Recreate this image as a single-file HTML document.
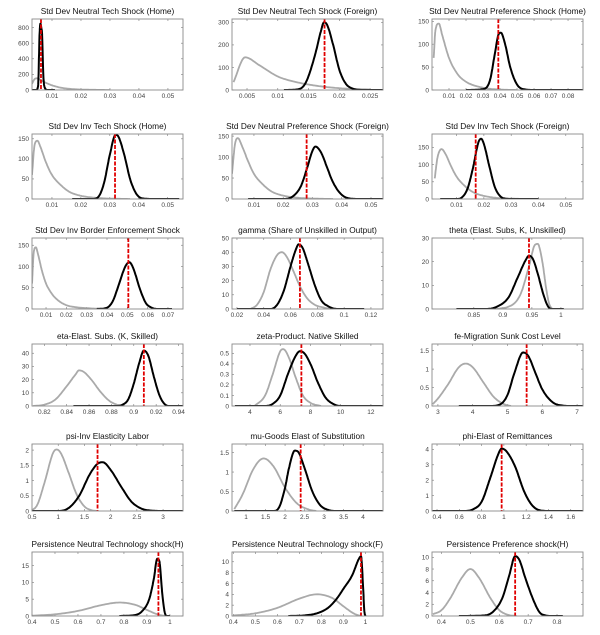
<!DOCTYPE html>
<html><head><meta charset="utf-8">
<style>
html,body{margin:0;padding:0;background:#fff;}
svg{display:block;font-family:"Liberation Sans",sans-serif;}
</style></head>
<body>
<svg id="fig" width="600" height="635" viewBox="0 0 600 635" xmlns="http://www.w3.org/2000/svg"></svg>
<script>
const titles = ["Std Dev Neutral Tech Shock (Home)","Std Dev Neutral Tech Shock (Foreign)","Std Dev Neutral Preference Shock (Home)",
"Std Dev Inv Tech Shock (Home)","Std Dev Neutral Preference Shock (Foreign)","Std Dev Inv Tech Shock (Foreign)",
"Std Dev Inv Border Enforcement Shock","gamma (Share of Unskilled in Output)","theta (Elast. Subs, K, Unskilled)",
"eta-Elast. Subs. (K, Skilled)","zeta-Product. Native Skilled","fe-Migration Sunk Cost Level",
"psi-Inv Elasticity Labor","mu-Goods Elast of Substitution","phi-Elast of Remittances",
"Persistence Neutral Technology shock(H)","Persistence Neutral Technology shock(F)","Persistence  Preference shock(H)"];
const xMins = [0.0031,0.00256,0.0,0.0031,0.0025,0.001,0.0031,0.0163,0.778,0.809,2.81,2.83,0.5,0.64,0.355,0.4,0.394,0.367];
const xMaxs = [0.0552,0.0271,0.0888,0.0553,0.0541,0.0563,0.0774,0.129,1.038,0.944,12.8,7.17,3.38,4.51,1.71,1.057,1.08,0.89];
const yMaxs = [910,315,155,162,155,189,167,50,30,47,0.589,1.68,2.2,1.72,4.35,19,11.8,10.9];
const xTicks = [[0.01,0.02,0.03,0.04,0.05],[0.005,0.01,0.015,0.02,0.025],[0.01,0.02,0.03,0.04,0.05,0.06,0.07,0.08],
[0.01,0.02,0.03,0.04,0.05],[0.01,0.02,0.03,0.04,0.05],[0.01,0.02,0.03,0.04,0.05],
[0.01,0.02,0.03,0.04,0.05,0.06,0.07],[0.02,0.04,0.06,0.08,0.1,0.12],[0.85,0.9,0.95,1],
[0.82,0.84,0.86,0.88,0.9,0.92,0.94],[4,6,8,10,12],[3,4,5,6,7],
[0.5,1,1.5,2,2.5,3],[1,1.5,2,2.5,3,3.5,4],[0.4,0.6,0.8,1,1.2,1.4,1.6],
[0.4,0.5,0.6,0.7,0.8,0.9,1],[0.4,0.5,0.6,0.7,0.8,0.9,1],[0.4,0.5,0.6,0.7,0.8]];
const yTicks = [[0,200,400,600,800],[0,100,200,300],[0,50,100,150],
[0,50,100,150],[0,50,100,150],[0,50,100,150],
[0,50,100,150],[0,10,20,30,40,50],[0,10,20,30],
[0,10,20,30,40],[0,0.1,0.2,0.3,0.4,0.5],[0,0.5,1,1.5],
[0,0.5,1,1.5,2],[0,0.5,1,1.5],[0,1,2,3,4],
[0,5,10,15],[0,2,4,6,8,10],[0,2,4,6,8,10]];
const redLines = [0.0062,0.0176,0.039,0.0318,0.028,0.017,0.0505,0.067,0.945,0.909,7.4,5.55,1.75,2.4,0.98,0.95,0.98,0.655];
const priorX = [
[0.0031,0.004,0.005,0.006,0.008,0.010,0.013,0.016,0.02,0.025,0.03],
[0.0028,0.0047,0.007,0.01,0.013,0.016,0.02,0.025],
[0.001,0.002,0.004,0.006,0.01,0.015,0.02,0.03,0.04,0.05],
[0.0031,0.004,0.005,0.006,0.008,0.01,0.013,0.016,0.02,0.025,0.03,0.037],
[0.0025,0.0035,0.0045,0.006,0.008,0.01,0.013,0.016,0.02,0.025,0.03,0.037],
[0.002,0.003,0.0045,0.006,0.008,0.01,0.013,0.016,0.02,0.025,0.03,0.036],
[0.0031,0.004,0.005,0.006,0.008,0.01,0.013,0.016,0.02,0.025,0.03,0.038],
[0.03,0.035,0.04,0.045,0.05,0.0535,0.057,0.062,0.067,0.072,0.078,0.085,0.09],
[0.88,0.91,0.93,0.945,0.955,0.96,0.968,0.975,0.98,0.985],
[0.81,0.82,0.83,0.84,0.848,0.851,0.855,0.862,0.87,0.878,0.885,0.892],
[4.3,5,5.5,6,6.2,6.6,7,7.5,8,8.7],
[2.85,3,3.3,3.6,3.8,4,4.3,4.6,4.9,5.1],
[0.5,0.6,0.75,0.9,0.97,1.05,1.2,1.35,1.5,1.65,1.75],
[0.7,0.9,1.2,1.45,1.7,2,2.3,2.6,2.8],
[0.65,0.72,0.8,0.88,0.95,0.98,1.02,1.1,1.18,1.25,1.32,1.4],
[0.4,0.5,0.6,0.7,0.78,0.85,0.9,0.95,0.98],
[0.4,0.5,0.6,0.7,0.78,0.85,0.9,0.95,0.98],
[0.37,0.4,0.43,0.47,0.5,0.53,0.57,0.6,0.63,0.66]];
const priorY = [
[80,140,150,130,90,60,30,15,6,2,0],
[35,145,110,60,35,20,8,2],
[70,130,145,120,70,35,18,5,1,0],
[60,135,145,130,90,60,35,18,8,3,1,0],
[60,130,145,125,90,60,35,18,8,3,1,0],
[60,120,145,130,95,65,38,20,9,3,1,0],
[60,135,145,130,90,60,35,20,9,4,2,0],
[0,3,12,28,38,40,37,27,16,8,3,1,0],
[0,1,6,18,27,27.5,20,8,2,0],
[0,1,5,15,24,27,26,20,11,4,1,0],
[0,0.1,0.3,0.52,0.54,0.45,0.28,0.1,0.03,0],
[0.05,0.2,0.6,1.05,1.15,1.05,0.65,0.25,0.05,0],
[0.02,0.2,1.0,1.9,2.02,1.9,1.25,0.55,0.15,0.02,0],
[0.05,0.4,1.1,1.35,1.15,0.6,0.2,0.04,0],
[0,0.1,0.6,2.2,3.7,4.05,3.9,2.9,1.3,0.4,0.05,0],
[0.1,0.5,1.5,3.2,4,3.3,1.8,0.4,0],
[0.1,0.5,1.5,3.2,4,3.3,1.8,0.4,0],
[0.3,1,3,6.5,8,6.5,3,1,0.2,0]];
const postX = [
[0.003,0.0045,0.0052,0.0057,0.006,0.0063,0.0066,0.007,0.0075,0.0085,0.011],
[0.011,0.013,0.0145,0.016,0.017,0.0175,0.018,0.019,0.02,0.021,0.022,0.024,0.0271],
[0.02,0.03,0.034,0.037,0.039,0.0405,0.043,0.046,0.05,0.055,0.06,0.0888],
[0.017,0.024,0.026,0.028,0.03,0.032,0.033,0.035,0.037,0.039,0.041,0.045,0.054],
[0.008,0.02,0.023,0.026,0.028,0.03,0.031,0.033,0.035,0.037,0.04,0.043,0.046,0.054],
[0.004,0.01,0.012,0.014,0.016,0.018,0.019,0.02,0.022,0.024,0.026,0.028,0.03,0.04],
[0.035,0.04,0.043,0.046,0.049,0.051,0.053,0.056,0.059,0.062,0.065,0.072],
[0.02,0.045,0.05,0.055,0.06,0.064,0.066,0.069,0.073,0.078,0.083,0.088,0.095,0.115],
[0.82,0.87,0.89,0.91,0.925,0.94,0.945,0.952,0.96,0.97,0.978,0.985,1.005],
[0.846,0.885,0.89,0.895,0.9,0.905,0.909,0.913,0.918,0.923,0.927,0.931,0.944],
[3,5,5.5,6,6.5,7,7.3,7.6,8,8.5,9,9.5,10,12.8],
[3.6,4.5,4.8,5.0,5.2,5.45,5.6,5.8,6.0,6.3,6.6,6.8,7.17],
[0.5,1.0,1.2,1.4,1.6,1.75,1.85,2.0,2.2,2.4,2.6,2.8,3,3.38],
[0.7,1.7,1.85,2,2.1,2.25,2.35,2.5,2.7,2.9,3.1,3.3,4.5],
[0.36,0.65,0.72,0.8,0.88,0.95,0.98,1.02,1.1,1.18,1.25,1.32,1.4,1.71],
[0.78,0.85,0.88,0.91,0.93,0.945,0.955,0.965,0.975,0.985,1.0],
[0.65,0.72,0.78,0.83,0.87,0.9,0.94,0.97,0.98,0.99,0.995,1.0],
[0.46,0.55,0.58,0.61,0.635,0.655,0.67,0.69,0.72,0.74,0.76,0.78,0.82]];
const postY = [
[0,0,50,700,850,800,700,200,30,0,0],
[0,2,30,150,260,300,290,200,90,30,8,0,0],
[0,2,20,80,120,125,100,50,12,1,0,0],
[0,0,5,40,110,160,155,110,50,15,2,0,0],
[0,0,5,30,70,115,125,110,75,40,10,1,0,0],
[0,0,5,30,90,165,175,160,95,35,8,1,0,0],
[0,3,20,60,100,110,95,50,15,3,0,0],
[0,0,3,13,30,42,45.5,43,32,17,6,2,0,0],
[0,0,1,5,13,21,22.5,21,15,6,1,0,0],
[0,0,1,5,17,33,42,38,22,8,2,0,0],
[0,0,0.02,0.1,0.3,0.47,0.52,0.5,0.4,0.22,0.08,0.02,0,0],
[0,0,0.05,0.3,0.9,1.45,1.35,0.9,0.45,0.1,0.01,0,0],
[0,0,0.1,0.5,1.2,1.55,1.6,1.35,0.8,0.3,0.07,0.01,0,0],
[0,0,0.1,0.6,1.1,1.55,1.5,1.1,0.5,0.15,0.03,0,0],
[0,0,0.1,0.6,2.2,3.7,4.05,3.9,2.9,1.3,0.4,0.05,0,0],
[0,0.3,1.5,5,11,17,16,8,2,0,0],
[0,0.1,0.5,1.5,3.2,5,7.5,10.5,11,5,1,0],
[0,0.1,0.8,3,7,10.2,9.5,6.5,2.5,0.6,0.1,0,0]];

// layout (pixels)
const colLeft = [32,232,432], boxW = 151;
const rowTop = [19,134,238,344,444,552], rowH = [71,65,71,62,67,64];
const NS = "http://www.w3.org/2000/svg";
const svg = document.getElementById("fig");
function mk(tag, attrs, parent){ const e=document.createElementNS(NS,tag); for(const k in attrs) e.setAttribute(k,attrs[k]); (parent||svg).appendChild(e); return e; }
function fmt(v){ return String(+v.toFixed(4)); }
function monotone(xs, ys){
  const n=xs.length, d=[], m=new Array(n);
  for(let i=0;i<n-1;i++) d.push((ys[i+1]-ys[i])/(xs[i+1]-xs[i]));
  m[0]=d[0]; m[n-1]=d[n-2];
  for(let i=1;i<n-1;i++) m[i]=(d[i-1]*d[i]<=0)?0:(d[i-1]+d[i])/2;
  for(let i=0;i<n-1;i++){ if(d[i]===0){m[i]=0;m[i+1]=0;continue;} const a=m[i]/d[i], b=m[i+1]/d[i], s=a*a+b*b; if(s>9){const t=3/Math.sqrt(s); m[i]=t*a*d[i]; m[i+1]=t*b*d[i];} }
  const pts=[];
  for(let i=0;i<n-1;i++){ const h=xs[i+1]-xs[i]; for(let k=0;k<12;k++){ const t=k/12, t2=t*t, t3=t2*t;
    const y=(2*t3-3*t2+1)*ys[i]+(t3-2*t2+t)*h*m[i]+(-2*t3+3*t2)*ys[i+1]+(t3-t2)*h*m[i+1];
    pts.push([xs[i]+t*h, Math.max(0,y)]); } }
  pts.push([xs[n-1], ys[n-1]]);
  return pts;
}
for(let p=0;p<18;p++){
  const L=colLeft[p%3], T=rowTop[Math.floor(p/3)], H=rowH[Math.floor(p/3)], W=boxW;
  const sx=v=>L+(v-xMins[p])/(xMaxs[p]-xMins[p])*W;
  const sy=v=>T+H-v/yMaxs[p]*H;
  const g=mk("g",{});
  
  
  const cid="clip"+p;
  const cp=mk("clipPath",{id:cid},g); mk("rect",{x:L,y:T,width:W,height:H},cp);
  const t=mk("text",{x:L+W/2,y:T-5,"text-anchor":"middle","font-size":"8.3",fill:"#111"},g);
  t.textContent=titles[p];
  
  
  xTicks[p].forEach(v=>{ const x=sx(v);
    mk("line",{x1:x,x2:x,y1:T+H,y2:T+H-2,stroke:"#777","stroke-width":"0.6"},g);
    mk("line",{x1:x,x2:x,y1:T,y2:T+2,stroke:"#777","stroke-width":"0.6"},g);
    const tx=mk("text",{x:x,y:T+H+8,"text-anchor":"middle","font-size":"6.5",fill:"#444"},g);
    tx.textContent=fmt(v);
    
    
  });
  yTicks[p].forEach(v=>{ const y=sy(v);
    mk("line",{x1:L,x2:L+2,y1:y,y2:y,stroke:"#777","stroke-width":"0.6"},g);
    mk("line",{x1:L+W,x2:L+W-2,y1:y,y2:y,stroke:"#777","stroke-width":"0.6"},g);
    const ty=mk("text",{x:L-3,y:y+2.3,"text-anchor":"end","font-size":"6.5",fill:"#444"},g);
    ty.textContent=fmt(v);
    
    
  });
  const cg=mk("g",{"clip-path":"url(#"+cid+")"},g);
  const pr=monotone(priorX[p],priorY[p]);
  const pl=mk("polyline",{points:pr.map(q=>sx(q[0]).toFixed(1)+","+sy(q[1]).toFixed(1)).join(" "),fill:"none",stroke:"#aaaaaa","stroke-width":"1.8"},cg);
  
  
  const po=monotone(postX[p],postY[p]);
  const ql=mk("polyline",{points:po.map(q=>sx(q[0]).toFixed(1)+","+sy(q[1]).toFixed(1)).join(" "),fill:"none",stroke:"#000","stroke-width":"2"},cg);
  
  
  const rx=sx(redLines[p]);
  const rl=mk("line",{x1:rx,x2:rx,y1:T,y2:T+H,stroke:"#e00000","stroke-width":"1.8","stroke-dasharray":"4,1.5"},cg);
  
  
  const fr=mk("rect",{x:L,y:T,width:W,height:H,fill:"none",stroke:"#8a8a8a","stroke-width":"0.9"},g);
  
  
}
</script>
</body></html>
